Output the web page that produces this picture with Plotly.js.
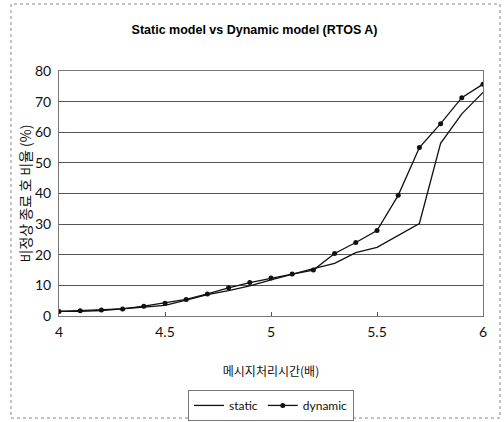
<!DOCTYPE html>
<html><head><meta charset="utf-8">
<script src="https://cdn.plot.ly/plotly-3.0.1.min.js"></script>
<style>html,body{margin:0;padding:0;background:#fff}</style>
</head><body><div id="chart" style="width:504px;height:422px"></div>
<script>
const xValues = [4.0,4.1,4.2,4.3,4.4,4.5,4.6,4.7,4.8,4.9,5.0,5.1,5.2,5.3,5.4,5.5,5.6,5.7,5.8,5.9,6.0];
const staticValues = [1.5,1.5,1.8,2.3,3.0,3.5,5.2,7.0,8.3,9.8,11.8,13.7,15.5,17.2,20.7,22.4,26.2,30.2,56.4,66.0,73.0];
const dynamicValues = [1.5,1.7,2.0,2.3,3.2,4.2,5.4,7.2,9.2,10.9,12.4,13.7,15.0,20.4,24.0,27.9,39.4,55.0,62.8,71.3,75.7];
const seriesNames = ["static","dynamic"];
const chartTitle = "Static model vs Dynamic model (RTOS A)";
const xTitle = "메시지처리시간(배)";
const yTitle = "비정상 종료 호 비율 (%)";

const tickFont = {family:"Lato, 'DejaVu Sans', sans-serif", size:14, color:"#111"};
const data = [
  {x:xValues, y:staticValues, name:seriesNames[0], type:"scatter", mode:"lines",
   line:{color:"#111", width:1.3}},
  {x:xValues, y:dynamicValues, name:seriesNames[1], type:"scatter", mode:"lines+markers",
   line:{color:"#111", width:1.3}, marker:{color:"#111", size:5, symbol:"circle"}}
];
const layout = {
  width:504, height:422,
  margin:{l:59, r:21, t:71, b:106},
  paper_bgcolor:"#fff", plot_bgcolor:"#fff",
  showlegend:true,
  title:{text:chartTitle, x:0.505, xanchor:"center", y:0.93, yanchor:"middle",
         font:{family:"'Liberation Sans Narrow', 'Liberation Sans', Arial, sans-serif", size:12.5, color:"#000", weight:"bold"}},
  xaxis:{range:[4,6], dtick:0.5, tick0:4, showgrid:false, zeroline:false, automargin:false,
         showline:true, mirror:true, linecolor:"#777", linewidth:1,
         ticks:"inside", ticklen:4, tickcolor:"#555",
         tickfont:tickFont, ticklabelstandoff:3,
         title:{text:xTitle, standoff:28, font:{family:"'Noto Sans CJK KR', sans-serif", size:12, color:"#111"}}},
  yaxis:{range:[0,80], dtick:10, tick0:0, showgrid:true, gridcolor:"#555", gridwidth:1, automargin:false,
         zeroline:false, showline:true, mirror:true, linecolor:"#777", linewidth:1,
         ticks:"", tickfont:tickFont, ticklabelstandoff:4,
         title:{text:yTitle, standoff:0, font:{family:"'Noto Sans CJK KR', sans-serif", size:14, color:"#111"}}},
  legend:{orientation:"h", x:0.5, xanchor:"center", xref:"paper", yref:"container", y:0.076, yanchor:"top",
          bordercolor:"#777", borderwidth:1, bgcolor:"#fff",
          font:{family:"Lato, 'DejaVu Sans', sans-serif", size:12, color:"#111"},
          itemwidth:30, tracegroupgap:0},
  shapes:[{type:"rect", xref:"paper", yref:"paper",
           x0:(11-59)/424, x1:(500-59)/424, y0:(316-418)/245, y1:(316-4)/245,
           line:{color:"#888", width:1, dash:"dot"}}]
};
Plotly.newPlot("chart", data, layout, {displayModeBar:false, staticPlot:true});
</script></body></html>
